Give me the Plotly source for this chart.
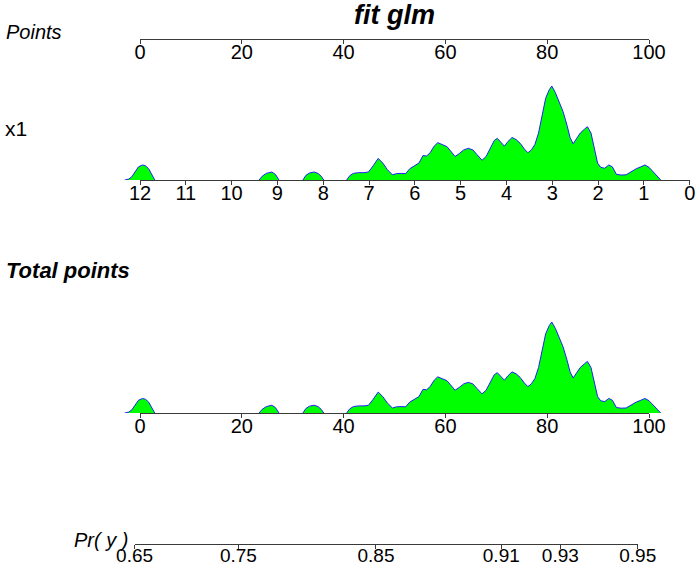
import numpy as np
import plotly.graph_objects as go

# ---------------- data ----------------
points_ticks = [0, 20, 40, 60, 80, 100]
x1_ticks = [12, 11, 10, 9, 8, 7, 6, 5, 4, 3, 2, 1, 0]
total_ticks = [0, 20, 40, 60, 80, 100]
pr_ticks = [0.65, 0.75, 0.85, 0.91, 0.93, 0.95]
pr_labels = ["0.65", "0.75", "0.85", "0.91", "0.93", "0.95"]

# model (points per unit of x1 and probability mapping)
x1_max = 12
points_per_x1 = 9.0
points_per_lp = 42.51
lp_at_zero_points = 0.644

# density of x1 expressed on the points scale (relative height)
density_points = [-3.0, -2.2, -1.6, -1.0, -0.3, 0.5, 1.1, 1.7, 2.3, 2.9,
                  23.4, 24.0, 24.8, 25.9, 26.6, 27.3,
                  32.0, 32.6, 33.3, 34.2, 35.0, 35.6, 36.1,
                  40.6, 41.2, 41.9, 42.9, 44.0, 44.9, 45.8, 46.8, 47.7, 48.6, 49.6,
                  50.4, 51.3, 52.2, 53.0, 54.0, 54.8, 55.6, 56.3, 57.0, 57.8, 58.5,
                  59.5, 60.3, 61.0, 61.9, 62.7, 63.6, 64.5, 65.4, 66.2, 67.2, 68.0,
                  68.8, 69.6, 70.2, 71.0, 71.6, 72.3, 73.1, 73.9, 74.7, 75.5, 76.2,
                  76.9, 77.6, 78.3, 79.0, 79.7, 80.4, 80.9, 81.6, 82.4, 83.1, 83.9,
                  84.5, 85.1, 85.7, 86.5, 87.3, 87.9, 88.6, 89.3, 89.9, 90.5, 91.3,
                  92.1, 92.8, 93.6, 94.5, 95.5, 96.5, 97.5, 98.4, 99.2, 100.0, 100.8,
                  101.6, 102.3]
density_height = [0.0, 0.01, 0.035, 0.09, 0.14, 0.16, 0.15, 0.12, 0.06, 0.0,
                  0.0, 0.04, 0.07, 0.085, 0.06, 0.0,
                  0.0, 0.05, 0.075, 0.085, 0.07, 0.04, 0.0,
                  0.0, 0.045, 0.07, 0.078, 0.078, 0.085, 0.15, 0.23, 0.18, 0.11, 0.055,
                  0.068, 0.07, 0.068, 0.12, 0.15, 0.18, 0.26, 0.255, 0.29, 0.36, 0.397,
                  0.375, 0.355, 0.31, 0.25, 0.28, 0.32, 0.337, 0.32, 0.27, 0.21, 0.25,
                  0.33, 0.42, 0.443, 0.39, 0.36, 0.41, 0.452, 0.43, 0.39, 0.33, 0.29,
                  0.32, 0.38, 0.5, 0.7, 0.87, 0.96, 1.0, 0.93, 0.82, 0.73, 0.58,
                  0.45, 0.385, 0.43, 0.5, 0.54, 0.567, 0.5, 0.33, 0.18, 0.135, 0.125,
                  0.16, 0.14, 0.06, 0.053, 0.055, 0.09, 0.12, 0.14, 0.16, 0.135, 0.09,
                  0.04, 0.0]

# ---------------- layout helpers ----------------
W, H = 700, 566
px_zero, px_per_point = 140.0, 5.09
r0 = (0 - px_zero) / px_per_point
r1 = (W - px_zero) / px_per_point


def frac(p):
    return (p - r0) / (r1 - r0)


def yfrac(py):
    return 1 - py / H


def logit(p):
    return np.log(p / (1 - p))


pr_pos = [logit(p) for p in pr_ticks]
pr_pts = [(lp - lp_at_zero_points) * points_per_lp for lp in pr_pos]

# split density into separate bumps (break between consecutive zero heights)
seg_x, seg_y = [], []
for i, (xv, hv) in enumerate(zip(density_points, density_height)):
    if i > 0 and hv == 0 and density_height[i - 1] == 0:
        seg_x.append(None)
        seg_y.append(None)
    seg_x.append(xv)
    seg_y.append(hv)

FONT = "Liberation Sans, Arial"
AX = "#3a3a3a"
base_style = dict(showgrid=False, zeroline=False, anchor="free", automargin=False)
# axis carrying line + tick marks (no labels)
tick_style = dict(showline=True, linecolor=AX, linewidth=1, ticks="outside", ticklen=4,
                  tickcolor=AX, tickwidth=1, showticklabels=False, **base_style)
# axis carrying the labels only (placed close to the line)
label_style = dict(showline=False, ticks="", ticklen=0, showticklabels=True, **base_style)

fig = go.Figure()

# densities
for yref in ("y2", "y3"):
    fig.add_trace(go.Scatter(x=seg_x, y=seg_y, mode="lines", connectgaps=False,
                             fill="tozeroy", fillcolor="#00ff00",
                             line=dict(color="#2020ff", width=1),
                             xaxis="x", yaxis=yref, hoverinfo="skip", showlegend=False))

x1_end_pts = x1_max * points_per_x1

scales = [
    # (range, tickvals, ticktext, domain, line position px, label lift px, font size)
    ([0, 100], points_ticks, [str(v) for v in points_ticks], [frac(0), frac(100)], 39, 1, 20),
    ([x1_max, 0], x1_ticks, [str(v) for v in x1_ticks], [frac(0), frac(x1_end_pts)], 180, 1, 20),
    ([0, 100], total_ticks, [str(v) for v in total_ticks], [frac(0), frac(100)], 413, 1, 20),
    ([pr_pos[0], pr_pos[-1]], pr_pos, pr_labels, [frac(pr_pts[0]), frac(pr_pts[-1])], 544, 2, 19),
]

layout_axes = {}
n = 2
for rng, tv, tt, dom, pos, lift, fsize in scales:
    for style, p in ((tick_style, pos), (label_style, pos - lift)):
        name = f"xaxis{n}"
        layout_axes[name] = dict(domain=dom, range=rng, tickvals=tv, ticktext=tt,
                                 position=yfrac(p),
                                 tickfont=dict(family=FONT, size=fsize, color="black"),
                                 **style)
        fig.add_trace(go.Scatter(x=rng, y=[0.5, 0.5], mode="markers",
                                 marker=dict(opacity=0), xaxis=f"x{n}", yaxis="y",
                                 hoverinfo="skip", showlegend=False))
        n += 1

fig.update_layout(
    width=W, height=H, margin=dict(l=0, r=0, t=0, b=0, pad=0, autoexpand=False),
    paper_bgcolor="white", plot_bgcolor="rgba(0,0,0,0)", showlegend=False,
    xaxis=dict(domain=[0, 1], range=[r0, r1], visible=False),
    yaxis=dict(domain=[0, 1], range=[0, 1], visible=False),
    yaxis2=dict(domain=[yfrac(180), yfrac(70)], range=[0, 110 / 94], visible=False,
                anchor="x"),
    yaxis3=dict(domain=[yfrac(413), yfrac(303)], range=[0, 110 / 91], visible=False,
                anchor="x"),
    **layout_axes,
)

ann = [
    dict(text="<b><i>fit glm</i></b>", x=394 / W, y=yfrac(15), xanchor="center", size=27),
    dict(text="<i>Points</i>", x=4 / W, y=yfrac(32), xanchor="left", size=20),
    dict(text="x1", x=3 / W, y=yfrac(128), xanchor="left", size=21),
    dict(text="<b><i>Total points</i></b>", x=4 / W, y=yfrac(270), xanchor="left", size=22),
    dict(text="<i>Pr( y )</i>", x=130 / W, y=yfrac(540), xanchor="right", size=20),
]
for a in ann:
    fig.add_annotation(text=a["text"], x=a["x"], y=a["y"], xref="paper", yref="paper",
                       xanchor=a["xanchor"], yanchor="middle", showarrow=False,
                       font=dict(family=FONT, size=a["size"], color="black"))

fig.write_html("out.html")
